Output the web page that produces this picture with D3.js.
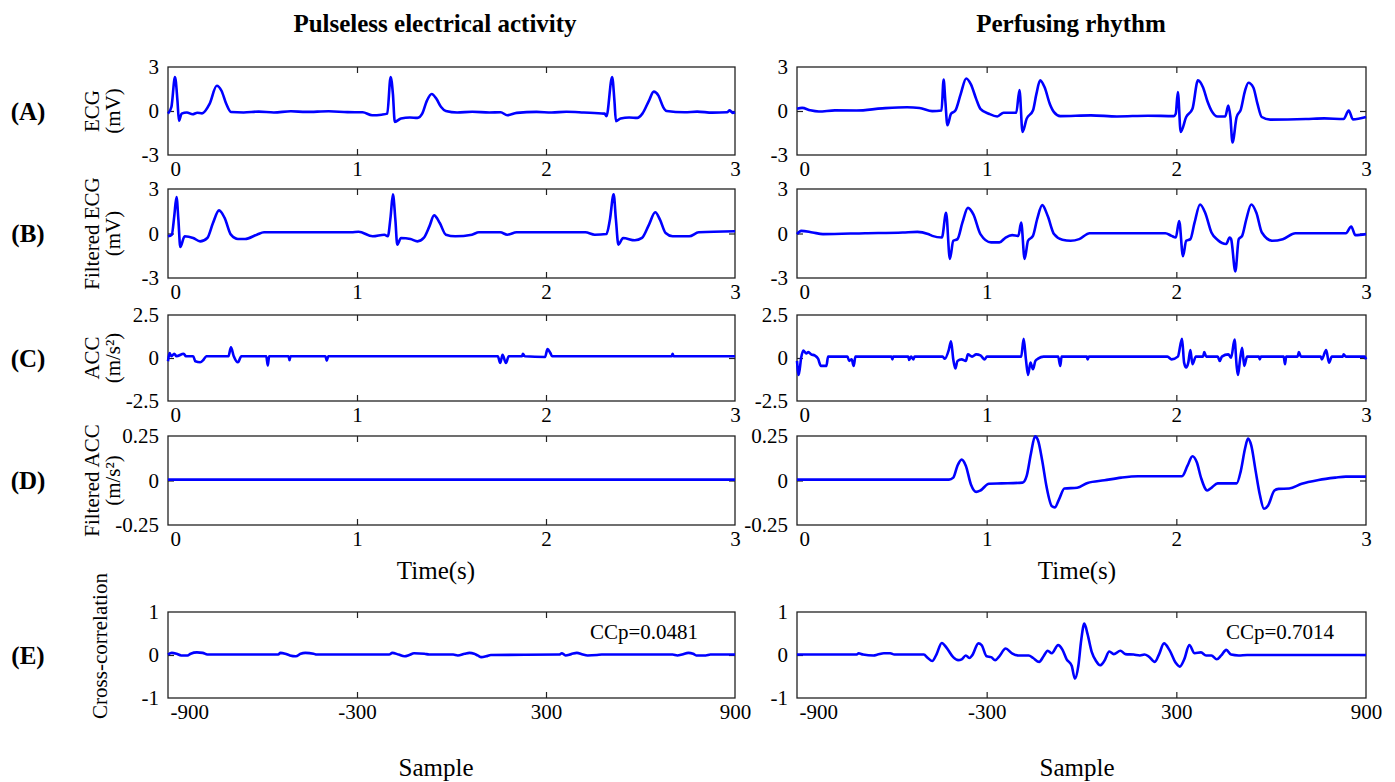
<!DOCTYPE html>
<html>
<head>
<meta charset="utf-8">
<script src="https://cdn.jsdelivr.net/npm/d3@7"></script>
<style>
  body { margin: 0; background: #fff; }
  text { font-family: "Liberation Serif", "Times New Roman", serif; fill: #000; }
</style>
</head>
<body>
<svg id="fig"></svg>
<script>
let width = 1395;
let height = 782;

// column titles and row labels
const columnTitles = ["Pulseless electrical activity", "Perfusing rhythm"];
const rowLetters = ["(A)", "(B)", "(C)", "(D)", "(E)"];
const yLabelLines = [
  ["ECG", "(mV)"],
  ["Filtered ECG", "(mV)"],
  ["ACC", "(m/s²)"],
  ["Filtered ACC", "(m/s²)"],
  ["Cross-correlation"],
];

// axis ticks
const timeTicks = [0, 1, 2, 3];
const lagTicks = [-900, -300, 300, 900];
const yTicksEcg = [-3, 0, 3];
const yTicksAcc = [-2.5, 0, 2.5];
const yTicksFiltAcc = [-0.25, 0, 0.25];
const yTicksCorr = [-1, 0, 1];
const ccpValues = ["CCp=0.0481", "CCp=0.7014"];

// (A) ECG [time s, mV]
const ecgPea = [
  [0, -0.18], [0.018, 0.27], [0.037, 2.32], [0.05, 0.71], [0.058, -0.67], [0.072, -0.18],
  [0.1, -0.1], [0.13, -0.22], [0.155, -0.12], [0.18, -0.16], [0.22, 0.49], [0.258, 1.72],
  [0.283, 1.38], [0.308, 0.49], [0.333, -0.07], [0.4, -0.1], [0.48, -0.04], [0.56, -0.1],
  [0.65, -0.02], [0.73, -0.06], [0.85, -0.02], [0.95, -0.08], [1.03, -0.09], [1.08, -0.29],
  [1.13, -0.25], [1.16, -0.18], [1.178, 2.32], [1.19, 1.16], [1.2, -0.74], [1.233, -0.51],
  [1.28, -0.44], [1.32, -0.47], [1.345, -0.18], [1.37, 0.71], [1.395, 1.16], [1.42, 0.83],
  [1.445, 0.27], [1.47, 0], [1.53, -0.1], [1.61, -0.05], [1.7, -0.1], [1.76, -0.09],
  [1.795, -0.29], [1.845, -0.13], [1.95, -0.06], [2.03, -0.1], [2.108, -0.05], [2.2, -0.1],
  [2.31, -0.18], [2.32, -0.36], [2.35, 2.32], [2.362, 0.71], [2.37, -0.69], [2.395, -0.51],
  [2.44, -0.44], [2.483, -0.47], [2.51, -0.18], [2.545, 0.71], [2.57, 1.32], [2.595, 1.05],
  [2.62, 0.27], [2.638, 0], [2.733, -0.09], [2.8, -0.04], [2.88, -0.11], [2.958, -0.09],
  [2.972, 0.04], [2.988, -0.13], [3, -0.09],
];
const ecgPr = [
  [0, 0.15], [0.027, 0.21], [0.07, 0.05], [0.115, -0.03], [0.2, 0.04], [0.314, 0.03],
  [0.45, 0.18], [0.58, 0.26], [0.646, 0.21], [0.713, -0.01], [0.762, 0.03], [0.773, 2.15],
  [0.782, 0.7], [0.793, -0.97], [0.812, -0.19], [0.835, 0.03], [0.863, 1.15], [0.892, 2.22],
  [0.917, 1.82], [0.945, 0.81], [0.967, 0.15], [1.012, -0.19], [1.056, -0.37], [1.089, -0.12],
  [1.156, -0.12], [1.173, 1.42], [1.189, -1.42], [1.211, -0.52], [1.244, 0.03], [1.262, 1.15],
  [1.282, 2.09], [1.306, 1.6], [1.333, 0.48], [1.355, -0.08], [1.388, -0.35], [1.55, -0.3],
  [1.687, -0.37], [1.85, -0.32], [1.986, -0.35], [1.997, -0.19], [2.008, 1.3], [2.023, -1.42],
  [2.052, -0.41], [2.085, 0.15], [2.114, 2.09], [2.141, 1.6], [2.163, 0.7], [2.185, 0.03],
  [2.218, -0.37], [2.258, -0.37], [2.274, 0.37], [2.285, -0.41], [2.296, -2.15], [2.318, -0.41],
  [2.34, 0.1], [2.362, 1.37], [2.38, 1.93], [2.406, 1.6], [2.428, 0.48], [2.45, -0.41],
  [2.495, -0.59], [2.683, -0.55], [2.78, -0.5], [2.882, -0.55], [2.909, 0.03], [2.931, -0.57],
  [3, -0.41],
];

// (B) filtered ECG [time s, mV]
const fEcgPea = [
  [0, -0.19], [0.02, -0.08], [0.033, 1.16], [0.045, 2.46], [0.055, 0.93], [0.065, -0.91],
  [0.088, -0.19], [0.133, -0.3], [0.17, -0.53], [0.208, -0.3], [0.238, 0.71], [0.27, 1.56],
  [0.3, 1.04], [0.333, -0.08], [0.37, -0.37], [0.408, -0.37], [0.47, -0.08], [0.508, 0.08],
  [0.97, 0.08], [1.008, 0.12], [1.083, -0.19], [1.145, -0.08], [1.163, -0.19], [1.178, 1.16],
  [1.19, 2.64], [1.203, 0.93], [1.213, -0.75], [1.233, -0.3], [1.283, -0.37], [1.32, -0.53],
  [1.353, -0.3], [1.383, 0.48], [1.408, 1.22], [1.438, 0.71], [1.47, -0.08], [1.52, -0.19],
  [1.608, -0.08], [1.645, 0.08], [1.758, 0.08], [1.795, -0.08], [1.845, 0.08], [2.208, 0.08],
  [2.258, -0.08], [2.32, -0.03], [2.338, 0.93], [2.358, 2.64], [2.37, 0.93], [2.383, -0.75],
  [2.408, -0.3], [2.47, -0.46], [2.508, -0.3], [2.545, 0.6], [2.578, 1.43], [2.603, 0.93],
  [2.633, 0.03], [2.67, -0.19], [2.758, -0.19], [2.808, 0.08], [3, 0.15],
];
const fEcgPr = [
  [0, -0.04], [0.022, 0.18], [0.082, 0.07], [0.137, -0.04], [0.359, 0.02], [0.558, 0.07],
  [0.635, 0.11], [0.691, -0.04], [0.713, -0.16], [0.764, -0.27], [0.786, 1.4], [0.806, -1.71],
  [0.824, -0.49], [0.846, -0.38], [0.872, 0.73], [0.901, 1.73], [0.93, 1.29], [0.967, -0.04],
  [1.023, -0.6], [1.067, -0.6], [1.1, -0.27], [1.134, -0.11], [1.167, -0.16], [1.182, 0.73],
  [1.2, -1.71], [1.218, -0.49], [1.244, -0.16], [1.266, 0.96], [1.293, 1.91], [1.322, 1.18],
  [1.355, -0.04], [1.399, -0.42], [1.443, -0.49], [1.488, -0.38], [1.543, 0.02], [1.942, 0.02],
  [1.975, -0.16], [1.997, -0.27], [2.015, 0.84], [2.035, -1.53], [2.052, -0.49], [2.074, -0.38],
  [2.096, 0.73], [2.125, 1.96], [2.152, 1.4], [2.185, 0.07], [2.218, -0.44], [2.263, -0.71],
  [2.281, -0.27], [2.289, -0.38], [2.311, -2.56], [2.329, -0.38], [2.347, -0.16], [2.369, 0.96],
  [2.395, 1.96], [2.422, 1.4], [2.451, 0.07], [2.506, -0.49], [2.561, -0.38], [2.628, 0.02],
  [2.894, 0.02], [2.922, 0.47], [2.944, -0.11], [3, -0.04],
];

// (C) ACC [time s, m/s2]
const accPea = [
  [0, -0.19], [0.008, 0.29], [0.018, 0.1], [0.033, 0.25], [0.045, 0.1], [0.083, 0.25],
  [0.095, 0.1], [0.133, 0.1], [0.145, -0.19], [0.17, -0.25], [0.188, -0.1], [0.203, 0.1],
  [0.32, 0.1], [0.333, 0.62], [0.348, 0.1], [0.37, -0.25], [0.388, 0.1], [0.52, 0.1],
  [0.528, -0.44], [0.535, 0.1], [0.638, 0.1], [0.643, -0.13], [0.648, 0.1], [0.833, 0.1],
  [0.84, -0.15], [0.848, 0.1], [1.745, 0.1], [1.758, -0.29], [1.77, 0.19], [1.788, -0.29],
  [1.803, 0.1], [1.873, 0.1], [1.878, 0.25], [1.888, 0.1], [1.995, 0.06], [2.008, 0.52],
  [2.023, 0.29], [2.033, 0.1], [2.665, 0.1], [2.67, 0.25], [2.675, 0.1], [3, 0.1],
];
const accPr = [
  [0, -0.17], [0.009, -0.99], [0.022, 0.02], [0.033, 0.44], [0.049, 0.27], [0.06, 0.34],
  [0.075, 0.21], [0.093, 0.15], [0.111, -0.04], [0.126, -0.46], [0.155, -0.46], [0.164, 0.08],
  [0.266, 0.08], [0.275, -0.17], [0.288, -0.08], [0.299, -0.46], [0.308, 0.08], [0.498, 0.08],
  [0.503, -0.08], [0.507, 0.08], [0.587, 0.08], [0.591, -0.11], [0.602, 0.08], [0.613, -0.08],
  [0.62, 0.08], [0.768, 0.08], [0.779, -0.04], [0.801, 0.5], [0.812, 0.97], [0.824, -0.08],
  [0.835, -0.61], [0.846, -0.17], [0.868, -0.08], [0.89, -0.17], [0.901, 0.21], [0.923, 0.08],
  [0.945, 0.21], [0.967, 0.15], [0.99, -0.08], [1.001, 0.08], [1.182, 0.08], [1.195, 1.11],
  [1.207, -0.08], [1.218, -0.99], [1.231, -0.27], [1.244, -0.65], [1.257, -0.17], [1.271, -0.04],
  [1.3, 0.08], [1.377, 0.08], [1.388, -0.46], [1.395, 0.08], [1.528, 0.08], [1.532, -0.08],
  [1.539, 0.08], [1.953, 0.08], [1.975, -0.08], [2.008, 0.08], [2.03, 1.11], [2.041, -0.27],
  [2.052, -0.55], [2.063, -0.27], [2.074, 0.46], [2.085, -0.36], [2.103, 0.08], [2.141, 0.08],
  [2.147, 0.34], [2.158, 0.08], [2.218, 0.08], [2.229, -0.17], [2.24, 0.08], [2.274, 0.21],
  [2.289, 0.02], [2.307, 1.07], [2.318, -0.46], [2.325, -0.99], [2.336, -0.08], [2.347, 0.59],
  [2.358, -0.46], [2.373, 0.08], [2.435, 0.08], [2.44, -0.08], [2.446, 0.08], [2.566, 0.08],
  [2.573, -0.36], [2.579, 0.08], [2.639, 0.08], [2.646, 0.34], [2.657, 0.08], [2.761, 0.08],
  [2.767, -0.08], [2.79, 0.46], [2.805, -0.27], [2.82, 0.08], [2.878, 0.08], [2.882, 0.21],
  [2.894, 0.08], [2.993, 0.08], [3, -0.08],
];

// (D) filtered ACC [time s, m/s2]
const fAccPea = [[0, 0.005], [3, 0.005]];
const fAccPr = [
  [0, 0.005], [0.801, 0.005], [0.824, 0.016], [0.846, 0.083], [0.868, 0.117], [0.89, 0.083],
  [0.917, -0.022], [0.945, -0.064], [0.967, -0.056], [1.012, -0.018], [1.078, -0.016],
  [1.189, -0.012], [1.211, 0.026], [1.233, 0.149], [1.255, 0.248], [1.271, 0.225], [1.293, 0.111],
  [1.315, -0.031], [1.344, -0.145], [1.359, -0.151], [1.381, -0.107], [1.41, -0.045],
  [1.477, -0.041], [1.532, -0.014], [1.621, 0.001], [1.709, 0.016], [1.798, 0.024], [2.03, 0.024],
  [2.059, 0.083], [2.085, 0.136], [2.108, 0.102], [2.13, 0.016], [2.163, -0.056], [2.185, -0.041],
  [2.218, -0.016], [2.318, -0.016], [2.34, 0.054], [2.362, 0.178], [2.378, 0.235], [2.395, 0.197],
  [2.418, 0.054], [2.44, -0.079], [2.462, -0.159], [2.484, -0.14], [2.517, -0.056],
  [2.539, -0.047], [2.595, -0.045], [2.661, -0.018], [2.75, 0.003], [2.838, 0.016],
  [2.894, 0.022], [3, 0.022],
];

// (E) cross-correlation [lag sample, value]
const corrPea = [
  [-900, 0.01], [-888, 0.05], [-873, 0.03], [-858, -0.01], [-838, -0.01], [-828, 0.03],
  [-808, 0.06], [-790, 0.05], [-775, 0.01], [-550, 0.01], [-543, 0.05], [-528, 0.03],
  [-513, -0.01], [-494, -0.03], [-479, 0.03], [-464, 0.05], [-438, 0.03], [-428, 0.01],
  [-198, 0.01], [-188, 0.05], [-168, 0.01], [-149, -0.03], [-134, 0.0], [-119, 0.04],
  [-86, 0.03], [-71, 0.01], [5, 0.01], [20, -0.01], [42, 0.03], [57, 0.05], [72, 0.03],
  [83, -0.01], [95, -0.05], [110, -0.03], [125, 0.0], [342, 0.01], [350, 0.04], [362, -0.01],
  [380, 0.02], [398, 0.05], [417, 0.01], [432, -0.01], [462, 0.0], [477, 0.01], [702, 0.01],
  [717, -0.01], [732, 0.01], [752, 0.05], [767, 0.03], [777, -0.01], [807, -0.01], [822, 0.01],
  [900, 0.01],
];
const corrPr = [
  [-900, 0.01], [-711, 0.01], [-705, 0.04], [-691, 0.01], [-658, -0.01], [-645, 0.01],
  [-625, 0.04], [-605, 0.04], [-592, 0.01], [-499, 0.01], [-486, -0.07], [-472, -0.14],
  [-459, 0.01], [-442, 0.28], [-426, 0.16], [-406, -0.05], [-390, -0.12], [-379, -0.1],
  [-366, -0.01], [-355, -0.07], [-346, -0.01], [-326, 0.27], [-316, 0.23], [-300, -0.03],
  [-286, -0.05], [-273, -0.12], [-260, -0.03], [-240, 0.15], [-220, 0.04], [-200, -0.01],
  [-167, -0.01], [-153, -0.07], [-134, -0.16], [-120, -0.03], [-107, 0.1], [-94, 0.04],
  [-74, 0.23], [-60, 0.12], [-47, -0.1], [-31, -0.25], [-21, -0.55], [-10, -0.25], [-1, 0.34],
  [9, 0.73], [19, 0.49], [32, 0.08], [46, -0.14], [59, -0.24], [72, -0.14], [88, 0.08],
  [102, 0.02], [123, 0.1], [139, 0.02], [165, 0.01], [185, -0.01], [199, 0.01], [212, -0.03],
  [232, -0.16], [245, 0.01], [261, 0.27], [278, 0.12], [298, -0.18], [311, -0.27], [325, -0.1],
  [341, 0.23], [358, 0.04], [378, 0.06], [394, -0.01], [411, -0.01], [428, -0.1], [442, -0.01],
  [458, 0.12], [473, 0.01], [497, -0.01], [524, 0.0], [900, 0.0],
];

// layout
let columns = [
  { x0: 168, x1: 735, titleX: 435, xLabelX: 436 },
  { x0: 797, x1: 1366, titleX: 1071, xLabelX: 1077 },
];
let rows = [
  { top: 67, bottom: 155, yTicks: yTicksEcg, series: [ecgPea, ecgPr], xTicks: timeTicks },
  { top: 189, bottom: 278, yTicks: yTicksEcg, series: [fEcgPea, fEcgPr], xTicks: timeTicks },
  { top: 315, bottom: 401, yTicks: yTicksAcc, series: [accPea, accPr], xTicks: timeTicks },
  { top: 436, bottom: 525, yTicks: yTicksFiltAcc, series: [fAccPea, fAccPr], xTicks: timeTicks },
  { top: 612, bottom: 698, yTicks: yTicksCorr, series: [corrPea, corrPr], xTicks: lagTicks },
];

let svg = d3.select("svg#fig")
  .attr("width", width)
  .attr("height", height)
  .style("background", "#fff");

// column titles
columns.forEach((c, i) => {
  svg.append("text")
    .attr("x", c.titleX)
    .attr("y", 32)
    .attr("text-anchor", "middle")
    .style("font-size", "25px")
    .style("font-weight", "bold")
    .text(columnTitles[i]);
});

let plain = (d) => String(d);

rows.forEach((row, r) => {
  let cy = (row.top + row.bottom) / 2;

  // row letter
  svg.append("text")
    .attr("x", 28)
    .attr("y", cy)
    .attr("dy", "0.35em")
    .attr("text-anchor", "middle")
    .style("font-size", "25px")
    .style("font-weight", "bold")
    .text(rowLetters[r]);

  // y label (rotated)
  let lines = yLabelLines[r];
  lines.forEach((line, k) => {
    let lx = lines.length === 1 ? 100 : (k === 0 ? 92 : 113);
    let ly = lines.length === 1 ? 646 : cy;
    svg.append("text")
      .attr("transform", `translate(${lx},${ly}) rotate(-90)`)
      .attr("dy", "0.35em")
      .attr("text-anchor", "middle")
      .style("font-size", "21px")
      .text(line);
  });

  columns.forEach((col, c) => {
    let xDomain = d3.extent(row.xTicks);
    let x = d3.scaleLinear().domain(xDomain).range([col.x0, col.x1]);
    let y = d3.scaleLinear().domain(d3.extent(row.yTicks)).range([row.bottom, row.top]);

    let g = svg.append("g");
    let innerX = row.xTicks.filter((t) => t !== xDomain[0] && t !== xDomain[1]);
    let innerY = row.yTicks.filter((t) => t !== y.domain()[0] && t !== y.domain()[1]);

    // bottom axis with labels, ticks pointing into the box
    g.append("g")
      .attr("transform", `translate(0,${row.bottom})`)
      .call(d3.axisBottom(x).tickValues(row.xTicks).tickSizeInner(-6).tickSizeOuter(0)
        .tickPadding(6).tickFormat(plain))
      .call((a) => a.select(".domain").remove())
      .call((a) => a.selectAll("line").attr("stroke", "#222").attr("stroke-width", 1.2)
        .filter((d) => !innerX.includes(d)).remove())
      .call((a) => a.selectAll("text").attr("font-family", null).style("font-size", "21px").attr("fill", "#000"))
      .call((a) => a.selectAll("text").filter((d) => d === xDomain[0])
        .attr("text-anchor", "start").attr("x", 2));

    // top ticks
    g.append("g")
      .attr("transform", `translate(0,${row.top})`)
      .call(d3.axisTop(x).tickValues(innerX).tickSizeInner(-6).tickSizeOuter(0).tickFormat(""))
      .call((a) => a.select(".domain").remove())
      .call((a) => a.selectAll("line").attr("stroke", "#222").attr("stroke-width", 1.2));

    // left axis with labels
    g.append("g")
      .attr("transform", `translate(${col.x0},0)`)
      .call(d3.axisLeft(y).tickValues(row.yTicks).tickSizeInner(-6).tickSizeOuter(0)
        .tickPadding(9).tickFormat(plain))
      .call((a) => a.select(".domain").remove())
      .call((a) => a.selectAll("line").attr("stroke", "#222").attr("stroke-width", 1.2)
        .filter((d) => !innerY.includes(d)).remove())
      .call((a) => a.selectAll("text").attr("font-family", null).style("font-size", "21px").attr("fill", "#000"));

    // right ticks
    g.append("g")
      .attr("transform", `translate(${col.x1},0)`)
      .call(d3.axisRight(y).tickValues(innerY).tickSizeInner(-6).tickSizeOuter(0).tickFormat(""))
      .call((a) => a.select(".domain").remove())
      .call((a) => a.selectAll("line").attr("stroke", "#222").attr("stroke-width", 1.2));

    // box
    g.append("rect")
      .attr("x", col.x0)
      .attr("y", row.top)
      .attr("width", col.x1 - col.x0)
      .attr("height", row.bottom - row.top)
      .attr("fill", "none")
      .attr("stroke", "#222")
      .attr("stroke-width", 1.3);

    // trace
    let line = d3.line()
      .x((d) => x(d[0]))
      .y((d) => y(d[1]))
      .curve(d3.curveMonotoneX);

    g.append("path")
      .datum(row.series[c])
      .attr("d", line)
      .attr("fill", "none")
      .attr("stroke", "#0000ff")
      .attr("stroke-width", 2.6)
      .attr("stroke-linejoin", "round");

    if (r === 4) {
      g.append("text")
        .attr("x", c === 0 ? 590 : 1226)
        .attr("y", 639)
        .style("font-size", "21px")
        .text(ccpValues[c]);
    }
  });
});

// x axis titles
columns.forEach((col) => {
  svg.append("text")
    .attr("x", col.xLabelX)
    .attr("y", 579)
    .attr("text-anchor", "middle")
    .style("font-size", "25px")
    .text("Time(s)");

  svg.append("text")
    .attr("x", col.xLabelX)
    .attr("y", 776)
    .attr("text-anchor", "middle")
    .style("font-size", "25px")
    .text("Sample");
});
</script>
</body>
</html>
